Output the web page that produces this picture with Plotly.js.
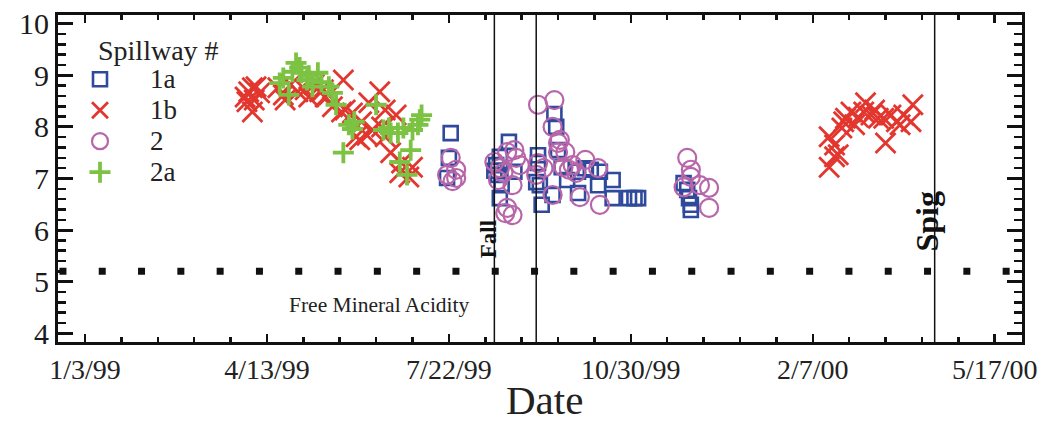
<!DOCTYPE html>
<html>
<head>
<meta charset="utf-8">
<script src="https://cdn.plot.ly/plotly-3.0.1.min.js"></script>
<style>html,body{margin:0;padding:0;background:#fff;}#chart{width:1042px;height:426px;}</style>
</head>
<body>
<div id="chart"></div>
<script>
// ---- Data ----
const seriesNames = ['1a', '1b', '2', '2a'];
const legendTitle = 'Spillway #';
const xTitle = 'Date';

const dates1a = ['1999-07-23','1999-07-22','1999-07-21','1999-08-19','1999-08-17','1999-08-18','1999-08-20','1999-08-19','1999-08-24','1999-08-27','1999-09-09','1999-09-10','1999-09-11','1999-09-17','1999-09-18','1999-09-19','1999-09-20','1999-09-22','1999-09-25','1999-10-01','1999-10-08','1999-10-13','1999-10-12','1999-10-20','1999-10-20','1999-10-29','1999-11-01','1999-11-03','1999-11-28','1999-11-30','1999-12-01','1999-12-02','1999-12-02','1999-10-01','1999-10-05','1999-09-08','1999-08-16','1999-09-09'];
const ph1a    = [7.88,7.40,7.01,7.42,7.26,7.07,6.87,6.62,7.71,7.13,7.30,6.87,6.49,6.68,8.25,8.00,7.55,7.22,6.97,6.72,7.17,7.13,6.87,6.97,6.62,6.62,6.62,6.62,6.91,6.78,6.62,6.49,6.39,7.13,7.20,6.93,7.15,7.45];

const dates1b = ['1999-04-01','1999-04-03','1999-04-05','1999-04-07','1999-04-02','1999-04-06','1999-04-09','1999-04-05','1999-04-19','1999-04-22','1999-04-26','1999-04-30','1999-05-04','1999-05-06','1999-04-23','1999-05-09','1999-05-12','1999-05-14','1999-05-17','1999-05-25','1999-05-15','1999-05-19','1999-05-24','1999-05-30','1999-06-04','1999-06-08','1999-06-14','1999-06-17','1999-06-23','1999-06-03','1999-06-07','1999-06-17','1999-06-20','1999-06-26','1999-07-02','1999-06-25','1999-06-30','1999-06-15','1999-06-10','1999-06-01','1999-05-26',
  '2000-02-16','2000-02-19','2000-02-16','2000-02-19','2000-02-21','2000-02-23','2000-02-25','2000-02-28','2000-03-01','2000-03-03','2000-03-06','2000-03-07','2000-03-10','2000-03-12','2000-03-14','2000-03-18','2000-03-17','2000-03-21','2000-03-24','2000-03-26','2000-03-28','2000-04-02','2000-04-01','2000-02-24'];
const ph1b    = [8.58,8.68,8.76,8.78,8.49,8.52,8.66,8.29,8.76,8.62,8.82,8.68,8.72,8.58,8.52,8.82,8.68,8.72,8.62,8.91,8.58,8.39,8.29,8.27,8.10,8.47,8.68,8.33,8.23,7.75,7.84,7.81,7.50,7.30,7.22,7.11,7.03,8.00,7.94,7.81,8.33,
  7.22,7.42,7.81,7.65,7.46,7.98,8.17,8.29,8.04,8.19,8.29,8.47,8.23,8.33,8.17,7.69,8.17,8.23,8.10,8.04,8.23,8.43,8.10,8.10];

const dates2 = ['1999-07-23','1999-07-21','1999-07-26','1999-07-26','1999-07-24','1999-08-16','1999-08-18','1999-08-23','1999-08-27','1999-08-26','1999-08-30','1999-08-21','1999-08-23','1999-08-26','1999-08-22','1999-09-09','1999-09-08','1999-09-12','1999-09-09','1999-09-17','1999-09-18','1999-09-17','1999-09-21','1999-09-20','1999-09-24','1999-10-05','1999-09-26','1999-09-30','1999-10-12','1999-10-02','1999-10-13','1999-09-23','1999-09-28','1999-11-30','1999-12-02','1999-12-02','1999-11-28','1999-12-07','1999-12-12','1999-12-12','1999-08-19','1999-08-28','1999-09-20'];
const ph2    = [7.40,7.07,7.17,7.01,6.95,7.32,6.97,7.51,7.55,6.87,7.26,7.11,6.43,6.29,6.33,7.30,7.07,7.20,8.43,6.68,8.52,8.00,7.75,7.51,7.51,7.36,7.17,7.11,7.20,6.64,6.49,7.22,7.26,7.40,7.17,7.03,6.83,6.87,6.82,6.43,7.20,7.40,7.69];

const dates2a = ['1999-04-29','1999-04-27','1999-05-02','1999-04-20','1999-04-25','1999-05-05','1999-05-11','1999-05-13','1999-05-17','1999-05-19','1999-05-21','1999-05-08','1999-04-22','1999-05-01','1999-05-06','1999-05-28','1999-05-31','1999-05-25','1999-06-12','1999-06-16','1999-06-20','1999-06-24','1999-06-27','1999-07-02','1999-07-07','1999-07-05','1999-07-01','1999-06-25','1999-06-29','1999-05-30','1999-06-19','1999-07-06'];
const ph2a    = [9.24,9.07,9.05,8.85,8.62,8.91,9.05,8.87,8.78,8.66,8.43,8.78,8.95,9.15,8.99,8.04,8.10,7.50,8.43,7.94,7.88,7.88,7.98,7.94,8.23,8.04,7.55,7.32,7.07,7.96,7.98,8.14];

const eventDates  = ['1999-08-16', '1999-09-08', '2000-04-14'];
const eventLabels = ['Fall', '', 'Spig'];
const acidityLevel = 5.2;
const acidityLabel = 'Free Mineral Acidity';

const tickDates  = ['1999-01-03','1999-04-13','1999-07-22','1999-10-30','2000-02-07','2000-05-17'];
const tickLabels = ['1/3/99','4/13/99','7/22/99','10/30/99','2/7/00','5/17/00'];
const yTickVals  = [4, 5, 6, 7, 8, 9, 10];

// ---- Styles ----
const FONT = '"Liberation Serif", "Times New Roman", serif';
const blue = '#2f4a9c', red = '#e2362f', purple = '#b766aa', green = '#7cc243';
const big = s => '<span style="font-size:27px">' + s + '</span>';

const traces = [
  {x: dates1a, y: ph1a, name: big(seriesNames[0]), type: 'scatter', mode: 'markers',
   marker: {symbol: 'square-open', size: 14, color: blue, line: {width: 2.6, color: blue}}},
  {x: dates1b, y: ph1b, name: big(seriesNames[1]), type: 'scatter', mode: 'markers',
   marker: {symbol: 'x-thin-open', size: 20, color: red, line: {width: 2.8, color: red}}},
  {x: dates2, y: ph2, name: big(seriesNames[2]), type: 'scatter', mode: 'markers',
   marker: {symbol: 'circle-open', size: 18, color: purple, line: {width: 2.2, color: purple}}},
  {x: dates2a, y: ph2a, name: big(seriesNames[3]), type: 'scatter', mode: 'markers',
   marker: {symbol: 'cross-thin-open', size: 15, color: green, line: {width: 3.8, color: green}}}
];

const shapes = [
  {type: 'line', xref: 'paper', x0: 0.0015, x1: 1, yref: 'y', y0: acidityLevel, y1: acidityLevel,
   line: {color: '#111', width: 7, dash: '7px,32.3px'}, layer: 'below'}
];
eventDates.forEach(d => shapes.push({type: 'line', xref: 'x', x0: d, x1: d, yref: 'paper', y0: 0, y1: 1,
  line: {color: '#111', width: 1.5}}));

const annotations = [
  {xref: 'paper', yref: 'y', x: 0.334, y: 4.54, text: acidityLabel, showarrow: false,
   font: {family: FONT, size: 21.5, color: '#222'}},
  {xref: 'paper', yref: 'paper', x: 0.040, y: 0.892, xanchor: 'left', yanchor: 'middle', text: legendTitle,
   showarrow: false, borderpad: 0, font: {family: FONT, size: 28, color: '#222'}},
  {xref: 'paper', yref: 'paper', x: 0.505, y: -0.176, xanchor: 'center', yanchor: 'middle', text: xTitle,
   showarrow: false, borderpad: 0, font: {family: FONT, size: 41, color: '#222'}}
];
annotations.push({xref: 'x', yref: 'y', x: eventDates[0], y: 5.83, text: '<b>' + eventLabels[0] + '</b>', textangle: -90,
  showarrow: false, xshift: -6, font: {family: FONT, size: 23, color: '#111'}});
annotations.push({xref: 'x', yref: 'y', x: eventDates[2], y: 6.16, text: '<b>' + eventLabels[2] + '</b>', textangle: -90,
  showarrow: false, xshift: -8, font: {family: FONT, size: 32, color: '#111'}});

const layout = {
  width: 1042, height: 426,
  margin: {l: 58, r: 20, t: 15, b: 84},
  paper_bgcolor: '#fff', plot_bgcolor: '#fff',
  font: {family: FONT, color: '#1a1a1a'},
  showlegend: true,
  legend: {x: -0.0083, y: 0.866, xanchor: 'left', yanchor: 'top', bgcolor: 'rgba(0,0,0,0)',
    font: {family: FONT, size: 21.5, color: '#222'}, tracegroupgap: 0, itemwidth: 90},
  xaxis: {
    type: 'date', range: ['1998-12-19 04:00', '2000-06-01'],
    showgrid: false, zeroline: false, showline: true, linecolor: '#111', linewidth: 3, mirror: 'ticks',
    tickmode: 'array', tickvals: tickDates, ticktext: tickLabels,
    ticks: 'inside', ticklen: 8, tickwidth: 2.5, tickcolor: '#111',
    tickfont: {family: FONT, size: 28, color: '#222'},
    minor: {tick0: '1999-01-03', dtick: 20 * 86400000, ticks: 'inside', ticklen: 5, tickwidth: 2.5, tickcolor: '#111', showgrid: false}
  },
  yaxis: {
    range: [3.83, 10.17],
    showgrid: false, zeroline: false, showline: true, linecolor: '#111', linewidth: 3, mirror: 'ticks',
    tickmode: 'array', tickvals: yTickVals,
    ticks: 'inside', ticklen: 15, tickwidth: 3, tickcolor: '#111',
    tickfont: {family: FONT, size: 30, color: '#1a1a1a'},
    minor: {dtick: 0.2, ticks: 'inside', ticklen: 8, tickwidth: 2.5, tickcolor: '#111', showgrid: false}
  },
  shapes: shapes,
  annotations: annotations
};

Plotly.newPlot('chart', traces, layout, {displayModeBar: false, staticPlot: true});
</script>
</body>
</html>
